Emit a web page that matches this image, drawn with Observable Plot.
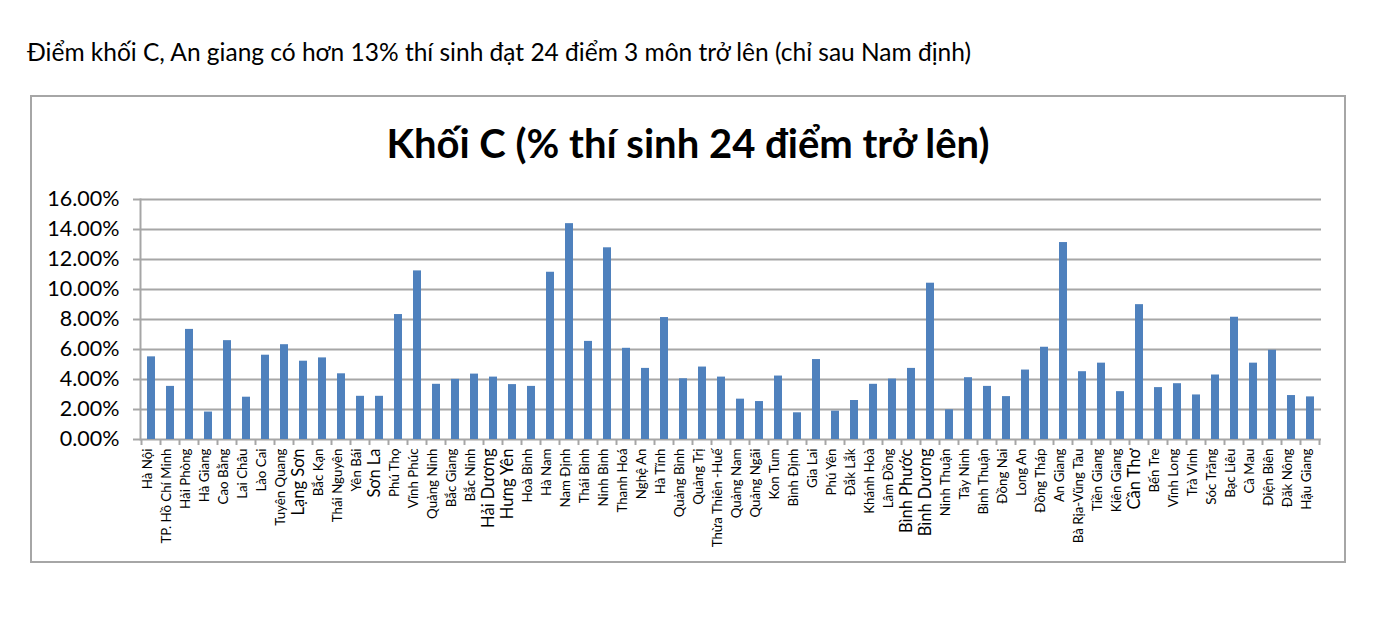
<!DOCTYPE html>
<html>
<head>
<meta charset="utf-8">
<script src="https://cdn.jsdelivr.net/npm/d3@7"></script>
<script src="https://cdn.jsdelivr.net/npm/@observablehq/plot@0.6"></script>
<style>
  html, body { margin: 0; padding: 0; background: #fff; }
  body { width: 1390px; height: 626px; position: relative; font-family: Lato, "Noto Sans", sans-serif; color: #000; }
  #pageTitle { position: absolute; left: 27px; top: 37px; font-size: 24.5px; line-height: 30px; white-space: nowrap; }
  #box { position: absolute; left: 30px; top: 95px; width: 1312px; height: 464px; border: 2px solid #a6a6a6; }
  #chartTitle { position: absolute; left: 0; width: 100%; top: 22px; text-align: center; font-size: 40px; line-height: 48px; font-weight: bold; white-space: nowrap; }
  #plot { position: absolute; left: 0; top: 83px; }
</style>
</head>
<body>
<div id="pageTitle">Điểm khối C, An giang có hơn 13% thí sinh đạt 24 điểm 3 môn trở lên (chỉ sau Nam định)</div>
<div id="box">
  <div id="chartTitle">Khối C (% thí sinh 24 điểm trở lên)</div>
  <div id="plot"></div>
</div>
<script>
const provinces = [
  "Hà Nội","TP. Hồ Chí Minh","Hải Phòng","Hà Giang","Cao Bằng","Lai Châu","Lào Cai","Tuyên Quang","Lạng Sơn","Bắc Kạn",
  "Thái Nguyên","Yên Bái","Sơn La","Phú Thọ","Vĩnh Phúc","Quảng Ninh","Bắc Giang","Bắc Ninh","Hải Dương","Hưng Yên",
  "Hoà Bình","Hà Nam","Nam Định","Thái Bình","Ninh Bình","Thanh Hoá","Nghệ An","Hà Tĩnh","Quảng Bình","Quảng Trị",
  "Thừa Thiên -Huế","Quảng Nam","Quảng Ngãi","Kon Tum","Bình Định","Gia Lai","Phú Yên","Đắk Lắk","Khánh Hoà","Lâm Đồng",
  "Bình Phước","Bình Dương","Ninh Thuận","Tây Ninh","Bình Thuận","Đồng Nai","Long An","Đồng Tháp","An Giang","Bà Rịa-Vũng Tàu",
  "Tiền Giang","Kiên Giang","Cần Thơ","Bến Tre","Vĩnh Long","Trà Vinh","Sóc Trăng","Bạc Liêu","Cà Mau","Điện Biên",
  "Đăk Nông","Hậu Giang"
];
const percents = [
  5.51,3.54,7.34,1.83,6.59,2.82,5.62,6.32,5.22,5.44,
  4.38,2.88,2.88,8.33,11.24,3.68,4.01,4.36,4.16,3.66,
  3.54,11.15,14.39,6.54,12.78,6.08,4.74,8.13,4.05,4.83,
  4.16,2.69,2.53,4.23,1.78,5.33,1.89,2.60,3.68,4.03,
  4.74,10.42,1.98,4.12,3.54,2.86,4.63,6.15,13.13,4.52,
  5.09,3.19,8.99,3.46,3.72,2.97,4.30,8.15,5.09,5.95,
  2.93,2.84
];
const yTicks = [0, 2, 4, 6, 8, 10, 12, 14, 16];
const largerLabels = ["Lạng Sơn","Sơn La","Hải Dương","Hưng Yên","Bình Phước","Bình Dương","Cần Thơ"];

const data = provinces.map((p, i) => ({province: p, value: percents[i]}));
const big = new Set(largerLabels);
const grid = "#a6a6a6";

const chart = Plot.plot({
  width: 1312,
  height: 380,
  marginLeft: 108,
  marginRight: 23,
  marginTop: 19,
  marginBottom: 121,
  style: {fontFamily: "Lato, 'Noto Sans', sans-serif", color: "#000", background: "transparent"},
  x: {type: "band", domain: provinces, paddingInner: 0.6, paddingOuter: 0.3, axis: null},
  y: {domain: [0, 16], axis: null},
  marks: [
    Plot.ruleY(yTicks, {y: d => d, stroke: grid, strokeWidth: 2}),
    Plot.barY(data, {x: "province", y: "value", fill: "#4F81BD"}),
    Plot.axisY({ticks: yTicks, tickFormat: d => d.toFixed(2) + "%", tickSize: 7, tickPadding: 14, fontSize: 21.5, stroke: grid, strokeWidth: 2, anchor: "left", label: null}),
    Plot.frame({anchor: "left", stroke: grid, strokeWidth: 2}),
    Plot.text(data, {
      x: "province", text: "province", frameAnchor: "bottom", rotate: -90, textAnchor: "end",
      dy: 9, fontSize: d => big.has(d.province) ? 16.5 : 13.3, fill: "#000"
    })
  ]
});
document.getElementById("plot").appendChild(chart);

// Excel-style category tick marks between bars, positioned with Plot's own x and y scales
const xs = chart.scale("x");
const ysc = chart.scale("y");
const y0 = ysc.apply(0);
const gap = (xs.step - xs.bandwidth) / 2;
const bounds = provinces.map(p => xs.apply(p) - gap);
bounds.push(xs.apply(provinces[provinces.length - 1]) + xs.bandwidth + gap);
d3.select(chart).append("g")
  .attr("stroke", grid).attr("stroke-width", 2)
  .selectAll("line").data(bounds).join("line")
  .attr("x1", d => d).attr("x2", d => d)
  .attr("y1", y0).attr("y2", y0 + 6);
</script>
</body>
</html>
